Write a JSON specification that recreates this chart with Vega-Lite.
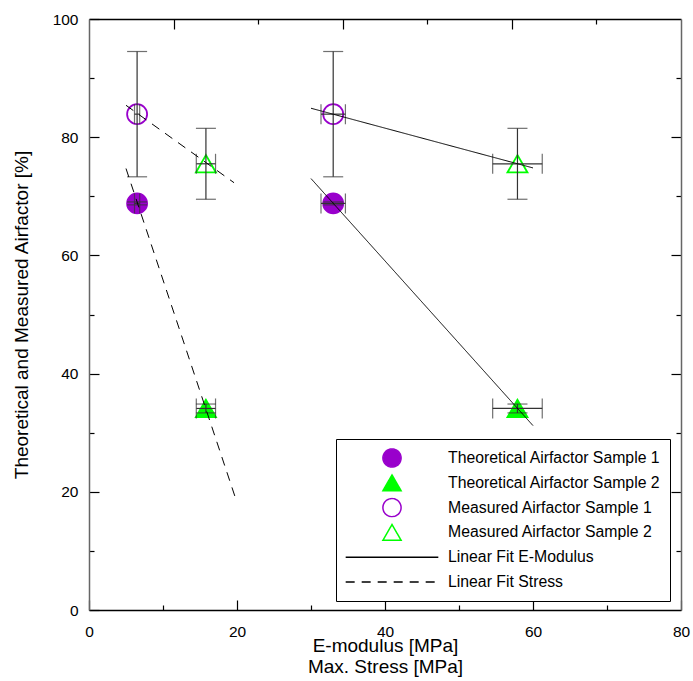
{
  "$schema": "https://vega.github.io/schema/vega-lite/v6.json",
  "autosize": {"type": "none"},
  "padding": {"left": 89, "top": 19, "right": 12, "bottom": 71},
  "width": 592,
  "height": 591,
  "background": "white",
  "config": {
    "font": "Liberation Sans",
    "view": {"stroke": null},
    "axis": {"grid": false, "labelFont": "Liberation Sans", "titleFont": "Liberation Sans", "labelColor": "black", "titleColor": "black", "titleFontWeight": "normal", "tickColor": "black", "tickWidth": 1.2},
    "legend": {
      "orient": "none", "legendX": 247, "legendY": 420,
      "strokeColor": "black", "fillColor": "white", "padding": 9,
      "labelFont": "Liberation Sans", "labelFontSize": 15.8, "labelColor": "black",
      "labelOffset": 46, "symbolOffset": 37, "symbolSize": 330, "rowPadding": 4.8, "clipHeight": 20,
      "symbolStrokeWidth": 1.5, "labelLimit": 0, "columns": 1
    }
  },
  "datasets": {
    "points": [
      {"series": "Theoretical Airfactor Sample 1", "x": 6.5, "y": 68.8, "xLo": 6.15, "xHi": 6.85, "yLo": 68.55, "yHi": 69.05},
      {"series": "Theoretical Airfactor Sample 1", "x": 33.0, "y": 68.8, "xLo": 31.35, "xHi": 34.65, "yLo": 68.55, "yHi": 69.05},
      {"series": "Theoretical Airfactor Sample 2", "x": 15.8, "y": 34.1, "xLo": 14.5, "xHi": 17.1, "yLo": 33.35, "yHi": 34.85},
      {"series": "Theoretical Airfactor Sample 2", "x": 57.9, "y": 34.1, "xLo": 54.55, "xHi": 61.25, "yLo": 33.35, "yHi": 34.85},
      {"series": "Measured Airfactor Sample 1", "x": 6.5, "y": 83.9, "xLo": 6.15, "xHi": 6.85, "yLo": 73.3, "yHi": 94.5},
      {"series": "Measured Airfactor Sample 1", "x": 33.0, "y": 83.9, "xLo": 31.35, "xHi": 34.65, "yLo": 73.3, "yHi": 94.5},
      {"series": "Measured Airfactor Sample 2", "x": 15.8, "y": 75.5, "xLo": 14.5, "xHi": 17.1, "yLo": 69.5, "yHi": 81.5},
      {"series": "Measured Airfactor Sample 2", "x": 57.9, "y": 75.5, "xLo": 54.55, "xHi": 61.25, "yLo": 69.5, "yHi": 81.5}
    ],
    "fits": [
      {"series": "Linear Fit E-Modulus", "grp": "E1", "x": 30, "y": 84.9},
      {"series": "Linear Fit E-Modulus", "grp": "E1", "x": 60, "y": 74.8},
      {"series": "Linear Fit E-Modulus", "grp": "E2", "x": 30, "y": 73.0},
      {"series": "Linear Fit E-Modulus", "grp": "E2", "x": 60, "y": 31.2},
      {"series": "Linear Fit Stress", "grp": "S1", "x": 5, "y": 85.4},
      {"series": "Linear Fit Stress", "grp": "S1", "x": 19.6, "y": 72.3},
      {"series": "Linear Fit Stress", "grp": "S2", "x": 5, "y": 74.7},
      {"series": "Linear Fit Stress", "grp": "S2", "x": 19.7, "y": 19.3}
    ]
  },
  "layer": [
    {
      "data": {"name": "points"},
      "mark": {"type": "point", "strokeWidth": 1.8, "opacity": 1, "size": 400},
      "encoding": {
        "x": {
          "field": "x", "type": "quantitative",
          "scale": {"domain": [0, 80], "nice": false, "zero": false},
          "axis": {
            "orient": "bottom",
            "title": ["E-modulus [MPa]", "Max. Stress [MPa]"],
            "values": [0, 10, 20, 30, 40, 50, 60, 70, 80],
            "labelExpr": "datum.value % 20 === 0 ? datum.label : ''",
            "tickSize": {"condition": {"test": "datum.value % 20 === 0", "value": -10}, "value": -5},
            "labelPadding": 24, "labelFlush": false, "labelOverlap": false,
            "labelFontSize": 15.5, "titleFontSize": 19, "titleLineHeight": 21,
            "titleBaseline": "top", "titleY": 26,
            "domainColor": "black", "domainWidth": 1.3
          }
        },
        "y": {
          "field": "y", "type": "quantitative",
          "scale": {"domain": [0, 100], "nice": false, "zero": false},
          "axis": {
            "orient": "left",
            "title": "Theoretical and Measured Airfactor [%]",
            "values": [0, 10, 20, 30, 40, 50, 60, 70, 80, 90, 100],
            "labelExpr": "datum.value % 20 === 0 ? datum.label : ''",
            "tickSize": {"condition": {"test": "datum.value % 20 === 0", "value": -10}, "value": -5},
            "labelPadding": 21, "labelFlush": false, "labelOverlap": false,
            "labelFontSize": 15.5, "titleFontSize": 19, "titlePadding": 21,
            "domainColor": "#666666", "domainWidth": 1.5
          }
        },
        "shape": {
          "field": "series", "type": "nominal",
          "scale": {"domain": ["Theoretical Airfactor Sample 1", "Theoretical Airfactor Sample 2", "Measured Airfactor Sample 1", "Measured Airfactor Sample 2", "Linear Fit E-Modulus", "Linear Fit Stress"],
                    "range": ["circle", "triangle-up", "circle", "triangle-up", "M-5.1,0H5.1", "M-5.1,0H5.1"]},
          "legend": {"title": null}
        },
        "fill": {
          "field": "series", "type": "nominal",
          "scale": {"domain": ["Theoretical Airfactor Sample 1", "Theoretical Airfactor Sample 2", "Measured Airfactor Sample 1", "Measured Airfactor Sample 2", "Linear Fit E-Modulus", "Linear Fit Stress"],
                    "range": ["#9900CC", "#00FF00", "transparent", "transparent", "transparent", "transparent"]},
          "legend": {"title": null}
        },
        "stroke": {
          "field": "series", "type": "nominal",
          "scale": {"domain": ["Theoretical Airfactor Sample 1", "Theoretical Airfactor Sample 2", "Measured Airfactor Sample 1", "Measured Airfactor Sample 2", "Linear Fit E-Modulus", "Linear Fit Stress"],
                    "range": ["#9900CC", "#00FF00", "#9900CC", "#00FF00", "black", "black"]},
          "legend": {"title": null}
        }
      }
    },
    {
      "data": {"name": "points"},
      "mark": {"type": "errorbar", "color": "#333333", "ticks": {"size": 20, "thickness": 1.2}, "rule": {"strokeWidth": 1.2}},
      "encoding": {
        "x": {"field": "x", "type": "quantitative", "axis": null},
        "y": {"field": "yLo", "type": "quantitative", "axis": null},
        "y2": {"field": "yHi"}
      }
    },
    {
      "data": {"name": "points"},
      "mark": {"type": "errorbar", "color": "#333333", "ticks": {"size": 20, "thickness": 1.2}, "rule": {"strokeWidth": 1.2}},
      "encoding": {
        "y": {"field": "y", "type": "quantitative", "axis": null},
        "x": {"field": "xLo", "type": "quantitative", "axis": null},
        "x2": {"field": "xHi"}
      }
    },
    {
      "data": {"name": "fits"},
      "mark": {"type": "line", "color": "black", "strokeWidth": 1},
      "encoding": {
        "x": {"field": "x", "type": "quantitative", "axis": null},
        "y": {"field": "y", "type": "quantitative", "axis": null},
        "detail": {"field": "grp", "type": "nominal"},
        "strokeDash": {
          "field": "series", "type": "nominal",
          "scale": {"domain": ["Theoretical Airfactor Sample 1", "Theoretical Airfactor Sample 2", "Measured Airfactor Sample 1", "Measured Airfactor Sample 2", "Linear Fit E-Modulus", "Linear Fit Stress"],
                    "range": [[1, 0], [1, 0], [1, 0], [1, 0], [1, 0], [9, 7]]},
          "legend": {"title": null}
        }
      }
    },
    {
      "data": {"name": "points"},
      "mark": {"type": "point", "opacity": 0},
      "encoding": {
        "x": {
          "field": "x", "type": "quantitative",
          "axis": {
            "orient": "top", "title": null, "labels": false,
            "values": [11.428571428571429, 22.857142857142858, 34.285714285714285, 45.714285714285715, 57.142857142857146, 68.57142857142857],
            "tickSize": {"condition": {"test": "abs(datum.value - 11.43) < 0.1 || abs(datum.value - 34.29) < 0.1 || abs(datum.value - 57.14) < 0.1", "value": -10}, "value": -5},
            "domainColor": "black", "domainWidth": 1.3
          }
        },
        "y": {
          "field": "y", "type": "quantitative",
          "axis": {
            "orient": "right", "title": null, "labels": false,
            "values": [10, 20, 30, 40, 50, 60, 70, 80, 90],
            "tickSize": {"condition": {"test": "datum.value % 20 === 0", "value": -10}, "value": -5},
            "domainColor": "#666666", "domainWidth": 1.5
          }
        }
      }
    }
  ],
  "resolve": {
    "axis": {"x": "independent", "y": "independent"}
  }
}
